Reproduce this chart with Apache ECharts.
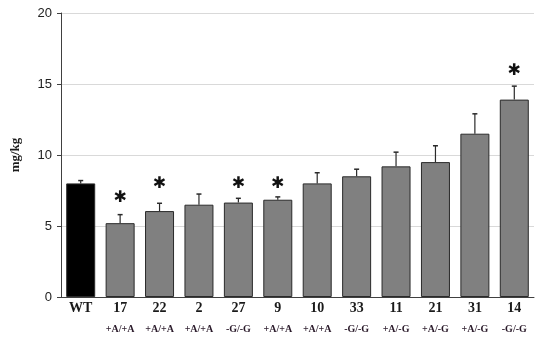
<!DOCTYPE html>
<html>
<head>
<meta charset="utf-8">
<script src="https://cdn.jsdelivr.net/npm/echarts@6/dist/echarts.min.js"></script>
<style>html,body{margin:0;padding:0;background:#fff}#c{width:550px;height:341px}</style>
</head>
<body>
<div id="c"></div>
<script>
var categories = ['WT','17','22','2','27','9','10','33','11','21','31','14'];
var genotypes = ['','+A/+A','+A/+A','+A/+A','-G/-G','+A/+A','+A/+A','-G/-G','+A/-G','+A/-G','+A/-G','-G/-G'];
var means = [8.0,5.2,6.05,6.5,6.65,6.85,8.0,8.5,9.2,9.5,11.5,13.9];
var errUpper = [0.2,0.6,0.55,0.75,0.3,0.2,0.75,0.5,1.0,1.15,1.4,0.95];
var asteriskPos = [null,7.0,8.0,null,8.0,8.0,null,null,null,null,null,15.95];
var yTicks = [0,5,10,15,20];

var chart = echarts.init(document.getElementById('c'));
var barData = means.map(function(v,i){
  return {value:v, itemStyle:{color: i===0 ? '#000000' : '#808080'}};
});
var errData = means.map(function(v,i){ return [i, v, v+errUpper[i]]; });
var astData = asteriskPos.map(function(v,i){ return v==null ? null : [i, v]; }).filter(function(d){return d;});

chart.setOption({
  animation:false,
  grid:{left:61,right:16,top:13,bottom:44},
  xAxis:{
    type:'category', data:categories,
    axisLine:{lineStyle:{color:'#404040',width:1}},
    axisTick:{show:false},
    axisLabel:{
      interval:0, margin:3,
      formatter:function(v,i){
        var g = genotypes[i];
        return '{a|'+v+'}\n{b|'+(g||' ')+'}';
      },
      rich:{
        a:{fontFamily:'Liberation Serif',fontWeight:'bold',fontSize:14,color:'#1a1a1a',lineHeight:16},
        b:{fontFamily:'Liberation Serif',fontWeight:'bold',fontSize:10,color:'#2a1a2a',lineHeight:26}
      }
    }
  },
  yAxis:{
    type:'value', min:yTicks[0], max:yTicks[yTicks.length-1], interval:5,
    name:'mg/kg', nameLocation:'middle', nameGap:39,
    nameTextStyle:{fontFamily:'Liberation Serif',fontWeight:'bold',fontSize:13,color:'#1a1a1a'},
    axisLine:{show:true,lineStyle:{color:'#404040',width:1}},
    axisTick:{show:true,length:4,lineStyle:{color:'#404040'}},
    axisLabel:{fontFamily:'Liberation Sans',fontSize:13,color:'#222',margin:9},
    splitLine:{lineStyle:{color:'#d9d9d9',width:1}}
  },
  series:[
    {
      type:'bar', data:barData, barWidth:29,
      itemStyle:{borderColor:'#2a2a2a',borderWidth:1},
      z:2
    },
    {
      type:'custom', data:errData, z:3,
      renderItem:function(params,api){
        var x = api.value(0);
        var p0 = api.coord([x, api.value(1)]);
        var p1 = api.coord([x, api.value(2)]);
        return {type:'group',children:[
          {type:'line',shape:{x1:p0[0],y1:p0[1],x2:p1[0],y2:p1[1]},style:{stroke:'#2a2a2a',lineWidth:1.2}},
          {type:'line',shape:{x1:p1[0]-2.5,y1:p1[1],x2:p1[0]+2.5,y2:p1[1]},style:{stroke:'#2a2a2a',lineWidth:1.5}}
        ]};
      }
    },
    {
      type:'custom', data:astData, z:4,
      renderItem:function(params,api){
        var p = api.coord([api.value(0), api.value(1)]);
        return {type:'text',x:p[0],y:p[1],style:{text:'\u2731',fontFamily:'DejaVu Sans',fontSize:16,fill:'#111',align:'center',verticalAlign:'middle'}};
      }
    }
  ]
});
</script>
</body>
</html>
